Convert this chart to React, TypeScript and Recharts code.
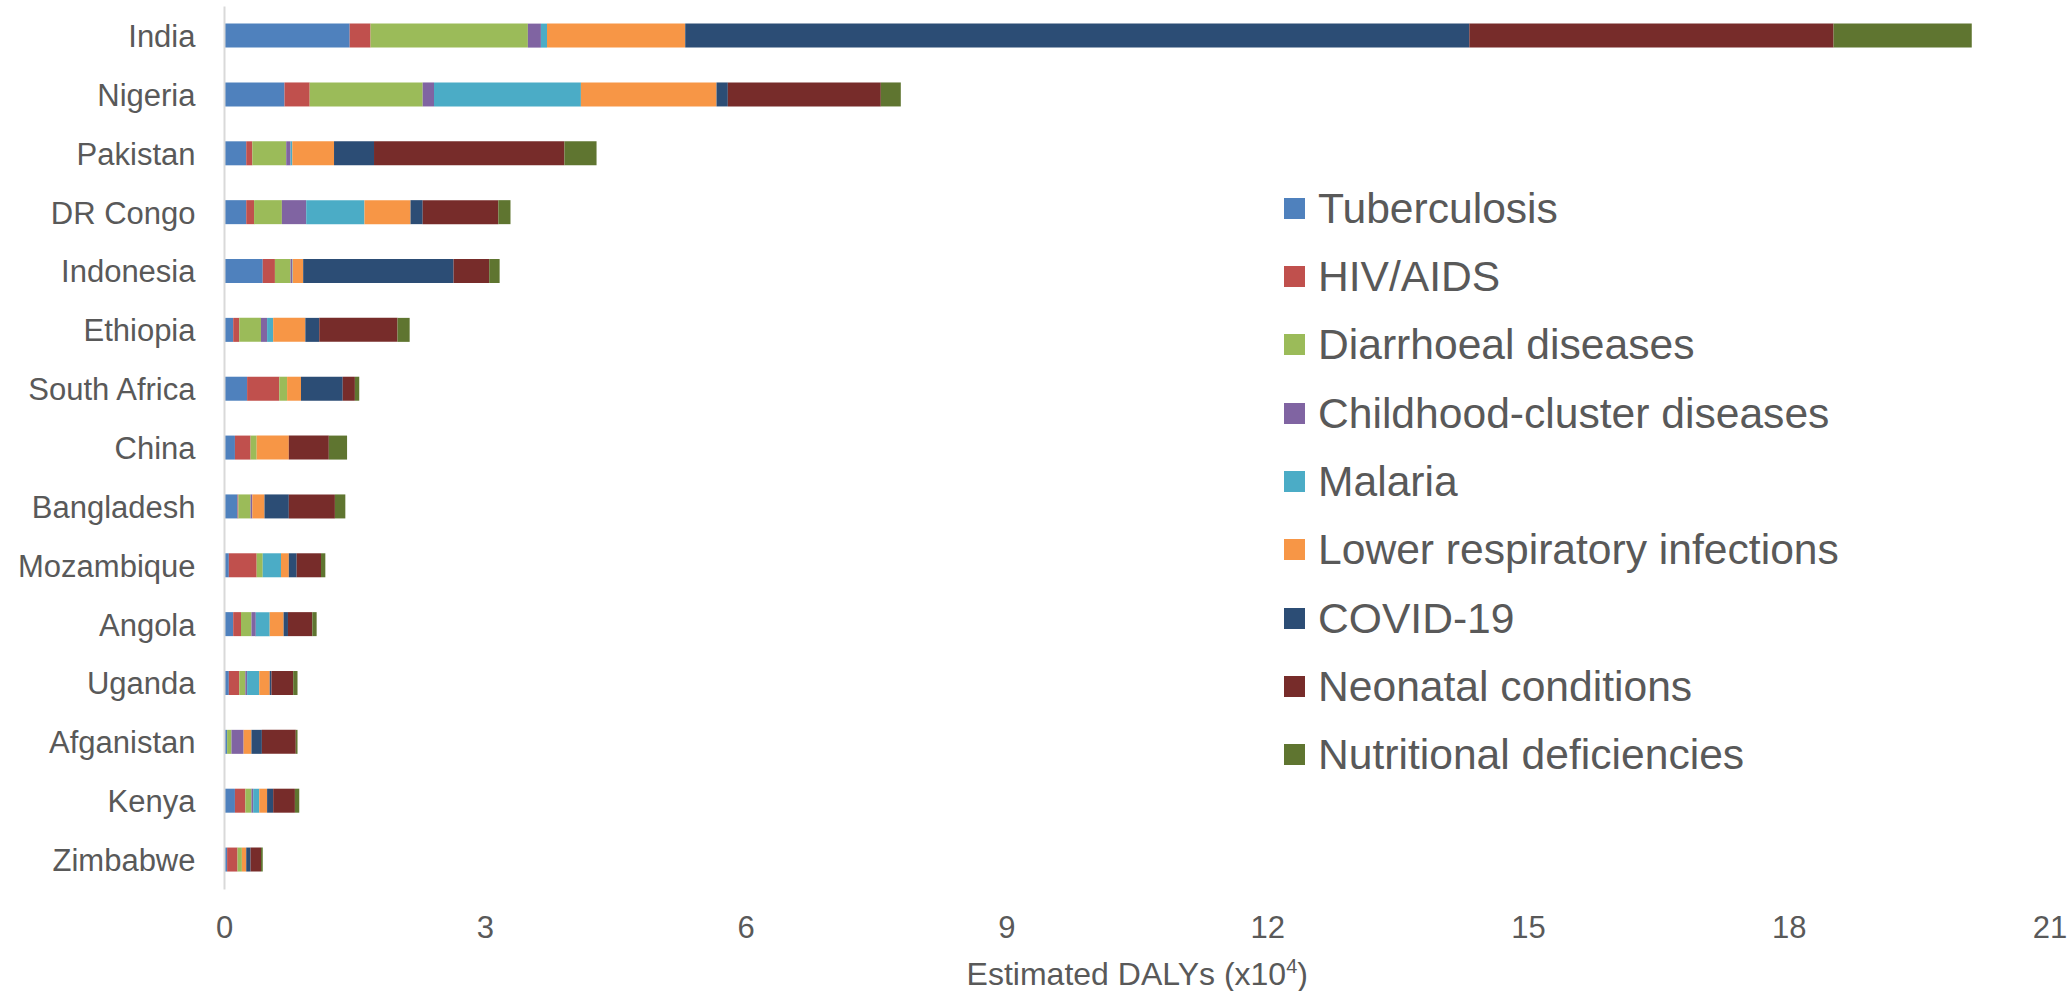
import { BarChart, Bar, XAxis, YAxis, Legend, Label } from "recharts";

const countries = [
  "India", "Nigeria", "Pakistan", "DR Congo", "Indonesia", "Ethiopia", "South Africa", "China",
  "Bangladesh", "Mozambique", "Angola", "Uganda", "Afganistan", "Kenya", "Zimbabwe",
];

const tuberculosis = [1.44, 0.69, 0.25, 0.25, 0.44, 0.10, 0.26, 0.12, 0.15, 0.05, 0.10, 0.05, 0.03, 0.12, 0.03];
const hivAids = [0.24, 0.29, 0.07, 0.09, 0.14, 0.07, 0.37, 0.18, 0.01, 0.32, 0.09, 0.12, 0, 0.12, 0.12];
const diarrhoeal = [1.81, 1.30, 0.39, 0.32, 0.18, 0.25, 0.09, 0.07, 0.14, 0.07, 0.12, 0.07, 0.05, 0.07, 0.05];
const childhood = [0.15, 0.13, 0.05, 0.28, 0.02, 0.07, 0, 0, 0.02, 0, 0.05, 0.02, 0.14, 0.02, 0];
const malaria = [0.07, 1.69, 0.02, 0.67, 0.005, 0.07, 0, 0, 0, 0.21, 0.16, 0.14, 0, 0.07, 0];
const lowerResp = [1.59, 1.56, 0.48, 0.53, 0.12, 0.37, 0.16, 0.37, 0.14, 0.09, 0.16, 0.12, 0.09, 0.09, 0.05];
const covid = [9.02, 0.13, 0.46, 0.14, 1.73, 0.16, 0.48, 0, 0.28, 0.09, 0.05, 0.02, 0.12, 0.07, 0.05];
const neonatal = [4.19, 1.76, 2.19, 0.87, 0.41, 0.90, 0.14, 0.46, 0.53, 0.28, 0.28, 0.25, 0.39, 0.25, 0.12];
const nutritional = [1.59, 0.23, 0.37, 0.14, 0.12, 0.14, 0.05, 0.21, 0.12, 0.05, 0.05, 0.05, 0.02, 0.05, 0.02];

const xTicks = [0, 3, 6, 9, 12, 15, 18, 21];

const series = [
  { key: "tb", name: "Tuberculosis", values: tuberculosis, color: "#4F81BD" },
  { key: "hiv", name: "HIV/AIDS", values: hivAids, color: "#C0504D" },
  { key: "diarr", name: "Diarrhoeal diseases", values: diarrhoeal, color: "#9BBB59" },
  { key: "child", name: "Childhood-cluster diseases", values: childhood, color: "#8064A2" },
  { key: "malaria", name: "Malaria", values: malaria, color: "#4BACC6" },
  { key: "lri", name: "Lower respiratory infections", values: lowerResp, color: "#F79646" },
  { key: "covid", name: "COVID-19", values: covid, color: "#2C4D75" },
  { key: "neo", name: "Neonatal conditions", values: neonatal, color: "#772C2A" },
  { key: "nutr", name: "Nutritional deficiencies", values: nutritional, color: "#5F7530" },
];

const data = countries.map((country, i) => {
  const row: Record<string, string | number> = { country };
  series.forEach((s) => { row[s.key] = s.values[i]; });
  return row;
});

const FONT = '"Liberation Sans", Arial, sans-serif';
const GREY = "#595959";

const order = (name: string) => series.findIndex((s) => s.name === name);

// keep the legend in series order, not alphabetical
const LegendList = ({ payload }: any) => {
  const items = [...(payload || [])].sort((a: any, b: any) => order(a.value) - order(b.value));
  return (
    <div style={{ fontFamily: FONT, color: GREY }}>
      {items.map((p: any) => (
        <div key={p.value} style={{ display: "flex", alignItems: "center", height: 68.35 }}>
          <span style={{ width: 21, height: 21, background: p.color, marginRight: 13, flexShrink: 0 }} />
          <span style={{ fontSize: 42.6, whiteSpace: "nowrap" }}>{p.value}</span>
        </div>
      ))}
    </div>
  );
};

const AxisTitle = ({ viewBox }: any) => {
  const cx = viewBox.x + viewBox.width / 2;
  return (
    <text x={cx} y={985} textAnchor="middle" fill={GREY} fontSize={32} fontFamily={FONT}>
      Estimated DALYs (x10
      <tspan dy={-12} fontSize={20}>4</tspan>
      <tspan dy={12}>)</tspan>
    </text>
  );
};

export default function App() {
  return (
    <div style={{ position: "absolute", left: 0, top: 0, background: "#fff" }}>
      <BarChart
        width={2071}
        height={991}
        data={data}
        layout="vertical"
        barSize={24}
        margin={{ top: 6.6, right: 21, bottom: 41.6, left: 0.5 }}
      >
        <XAxis
          type="number"
          domain={[0, 21]}
          ticks={xTicks}
          axisLine={false}
          tickLine={false}
          tickSize={0}
          tickMargin={27}
          height={60}
          tick={{ fill: GREY, fontSize: 31, fontFamily: FONT }}
        >
          <Label content={<AxisTitle />} />
        </XAxis>
        <YAxis
          type="category"
          dataKey="country"
          width={224}
          axisLine={{ stroke: "#D9D9D9", strokeWidth: 2 }}
          tickLine={false}
          tickSize={0}
          tickMargin={29}
          interval={0}
          tick={{ fill: GREY, fontSize: 31, fontFamily: FONT }}
        />
        <Legend
          layout="vertical"
          verticalAlign="middle"
          align="center"
          content={<LegendList />}
          wrapperStyle={{ left: 1284, top: 174, width: 760 }}
        />
        {series.map((s) => (
          <Bar key={s.key} dataKey={s.key} name={s.name} stackId="a" fill={s.color} isAnimationActive={false} />
        ))}
      </BarChart>
    </div>
  );
}
